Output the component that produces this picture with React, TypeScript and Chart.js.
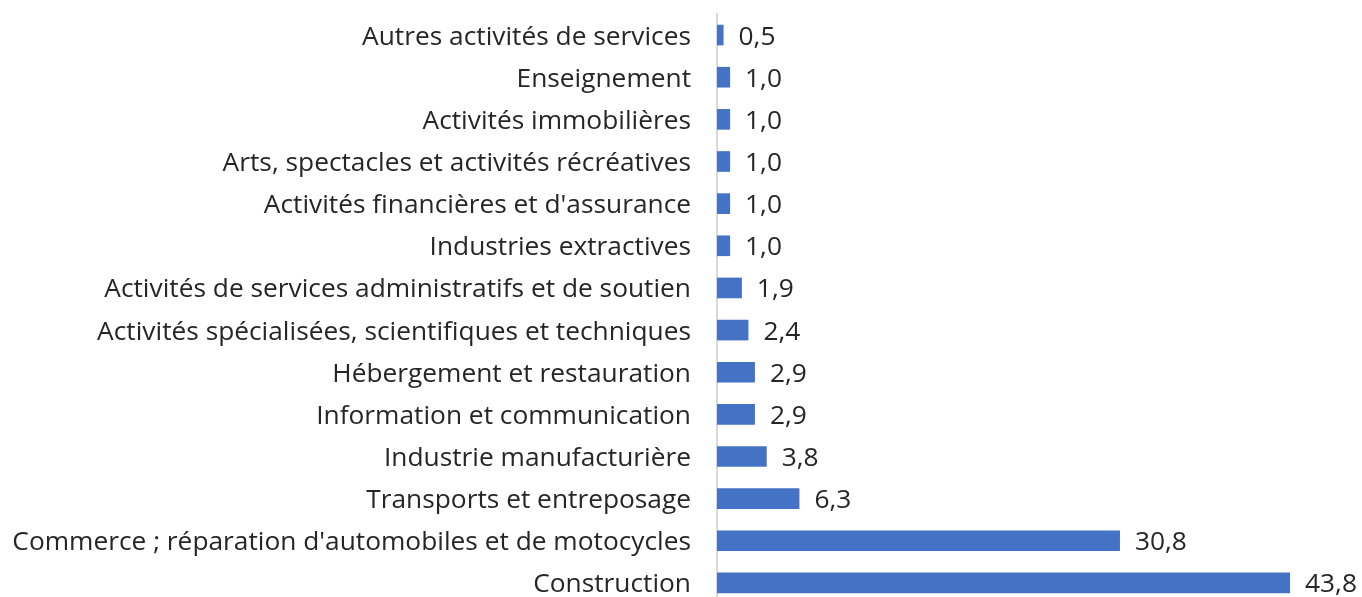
import React, { useEffect, useRef } from "react";
import { Chart, registerables } from "chart.js";

Chart.register(...registerables);

const categories = [
  "Autres activités de services",
  "Enseignement",
  "Activités immobilières",
  "Arts, spectacles et activités récréatives",
  "Activités financières et d'assurance",
  "Industries extractives",
  "Activités de services administratifs et de soutien",
  "Activités spécialisées, scientifiques et techniques",
  "Hébergement et restauration",
  "Information et communication",
  "Industrie manufacturière",
  "Transports et entreposage",
  "Commerce ; réparation d'automobiles et de motocycles",
  "Construction",
];

const values = [0.5, 1.0, 1.0, 1.0, 1.0, 1.0, 1.9, 2.4, 2.9, 2.9, 3.8, 6.3, 30.8, 43.8];

const FONT = "'Open Sans', sans-serif";
const FONT_SIZE = 26.3;
const TEXT_COLOR = "#262626";

const valueLabels = {
  id: "valueLabels",
  afterDatasetsDraw(chart: any) {
    const ctx = chart.ctx;
    const meta = chart.getDatasetMeta(0);
    ctx.save();
    ctx.font = `${FONT_SIZE}px ${FONT}`;
    ctx.fillStyle = TEXT_COLOR;
    ctx.textAlign = "left";
    ctx.textBaseline = "middle";
    meta.data.forEach((bar: any, i: number) => {
      const txt = values[i].toFixed(1).replace(".", ",");
      ctx.fillText(txt, bar.x + 15, bar.y + 2);
    });
    ctx.restore();
  },
};

export default function App() {
  const ref = useRef<HTMLCanvasElement>(null);
  useEffect(() => {
    document.body.style.overflow = "hidden";
    const chart = new Chart(ref.current!, {
      type: "bar",
      data: {
        labels: categories,
        datasets: [
          {
            data: values,
            backgroundColor: "#4472C4",
            barPercentage: 0.49,
            categoryPercentage: 1,
          },
        ],
      },
      options: {
        indexAxis: "y",
        animation: false,
        responsive: true,
        maintainAspectRatio: false,
        layout: { padding: { top: 14, right: 17, bottom: 1, left: 0 } },
        plugins: { legend: { display: false }, tooltip: { enabled: false } },
        scales: {
          x: {
            display: false,
            min: 0,
            max: 48,
          },
          y: {
            afterFit(scale: any) {
              scale.width = 717;
              scale.paddingTop = 0;
              scale.paddingBottom = 0;
            },
            grid: { display: false, drawTicks: false },
            border: { display: true, color: "#d9d9d9", width: 2 },
            ticks: {
              padding: 26,
              labelOffset: 2,
              color: TEXT_COLOR,
              font: { family: FONT, size: FONT_SIZE },
              autoSkip: false,
            },
          },
        },
      },
      plugins: [valueLabels],
    });
    return () => chart.destroy();
  }, []);
  return (
    <div style={{ position: "fixed", left: 0, top: 0, width: 1362, height: 605 }}>
      <canvas ref={ref} />
    </div>
  );
}
